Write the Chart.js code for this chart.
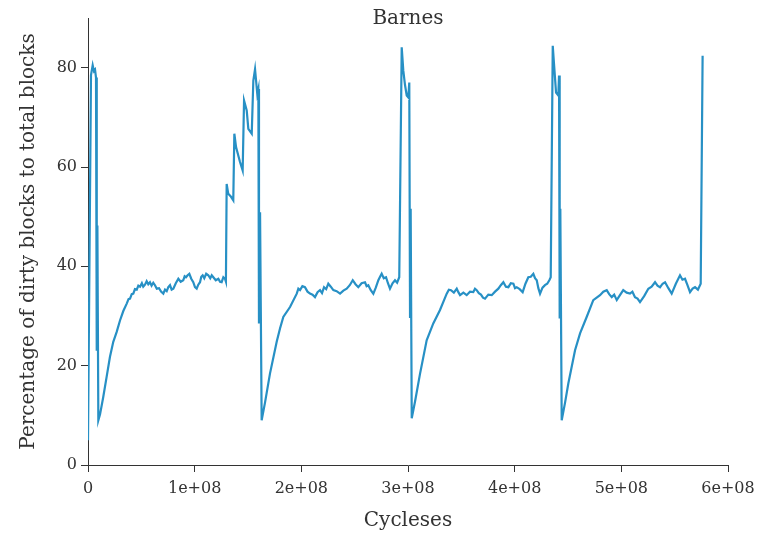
<!DOCTYPE html>
<html>
<head>
<meta charset="utf-8">
<script src="https://cdn.jsdelivr.net/npm/chart.js@4.4.0/dist/chart.umd.min.js"></script>
<style>
  html, body { margin: 0; padding: 0; background: #fff; }
  #wrap { width: 758px; height: 534px; position: relative; }
</style>
</head>
<body>
<div id="wrap"><canvas id="dirtyChart"></canvas></div>
<script>
// x in millions of cycles, y in percent
const cycles = [
    0, 2.8, 4.4, 5.6, 6.6, 7.5, 8.2, 8.8, 9.7, 11.3, 14.3, 17.5, 20.6, 23.7, 26.9, 30.0, 33.1,
    36.3, 38.0, 39.4, 41.0, 42.5, 44.0, 45.7, 47.2, 48.8, 50.5, 51.8, 53.4, 55.0, 56.5, 58.1,
    59.6, 61.2, 62.8, 64.5, 66.6, 68.5, 70.6, 72.2, 73.8, 75.3, 76.9, 78.4, 80.0, 82.3, 84.7,
    86.9, 89.3, 90.6, 91.9, 93.4, 95.0, 96.8, 98.7, 100.3, 101.9, 103.4, 105.0, 106.2, 107.5,
    109.0, 110.8, 112.8, 114.6, 116.0, 117.5, 119.8, 122.2, 123.8, 125.3, 126.9, 128.4, 129.3,
    130.0, 131.5, 134.1, 136.2, 137.2, 138.8, 142.5, 145.0, 146.3, 148.8, 150.3, 153.5,
    155.0, 156.6, 158.7, 159.7, 160.3, 161.3, 162.8,
    165.9, 170.6, 176.9, 180.0, 183.1, 189.4,
    195.7, 197.2, 198.8, 201.0, 203.4, 205.8, 208.1, 210.5, 212.8, 215.2, 217.5, 219.4, 221.3,
    223.3, 225.3, 227.6, 230.0, 233.1, 236.3, 239.4, 242.5, 245.4, 248.2, 250.8, 253.4, 256.5,
    259.7, 261.2, 262.8, 265.1, 267.5, 269.8, 272.2, 273.8, 275.3, 277.3, 279.4, 281.2, 283.1,
    285.5, 287.8, 289.8, 291.8,
    294.1, 295.6, 297.2, 298.8, 300.3, 301.2, 301.9, 302.5, 303.5,
    306.6, 311.3, 317.5, 323.7, 330.0,
    336.3, 338.3, 340.3, 343.0, 345.7, 347.2, 348.8, 351.9, 355.0, 358.1, 361.2, 362.8, 364.4,
    366.4, 368.4, 370.3, 372.2, 375.3, 378.5, 381.6, 384.7, 387.0, 389.4, 391.8, 394.1, 396.4,
    398.8, 400.3, 401.9, 404.7, 407.5, 410.1, 412.8, 415.1, 417.5, 419.1, 420.7, 422.2, 423.8,
    426.1, 428.4, 430.5, 432.5, 433.8,
    435.7, 436.9, 438.8, 440.9, 441.6, 442.2, 442.8, 444.1,
    447.2, 450.3, 456.6, 461.3, 467.5, 473.7,
    480.0, 483.1, 486.3, 488.6, 491.0, 493.3, 495.7, 498.7, 501.8, 505.0, 508.1, 510.4, 512.8,
    515.2, 517.5, 521.4, 525.3, 528.4, 531.6, 533.9, 536.3, 538.7, 541.0, 544.1, 547.2, 551.1,
    555.0, 557.3, 559.7, 562.0, 564.4, 566.8, 569.1, 571.8, 574.4, 576.2
];
const dirtyPct = [
    5.0, 78.5, 80.5, 79.3, 79.6, 78.0, 23.0, 48.2, 9.0, 10.2, 13.7, 17.8, 21.8, 24.8, 26.8, 29.1, 31.0,
    32.5, 33.4, 33.5, 34.4, 34.5, 35.4, 35.3, 36.1, 35.9, 36.6, 35.9, 36.3, 37.0, 36.4, 36.8,
    36.1, 36.7, 36.2, 35.5, 35.6, 34.9, 34.5, 35.3, 35.0, 35.8, 36.2, 35.3, 35.5, 36.6, 37.5,
    36.9, 37.2, 38.0, 37.8, 38.2, 38.5, 37.5, 36.8, 35.8, 35.5, 36.3, 36.8, 37.9, 38.2,
    37.6, 38.5, 38.2, 37.6, 38.2, 37.8, 37.2, 37.5, 36.9, 36.8, 37.8, 37.5, 36.9,
    56.6, 54.6, 54.0, 53.3, 66.7, 64.0, 61.0, 59.3, 73.4, 71.4, 67.7, 66.7,
    77.4, 79.7, 74.7, 75.7, 28.5, 50.9, 9.0,
    12.5, 18.4, 24.8, 27.5, 29.8, 31.8,
    34.5, 35.5, 35.2, 36.0, 35.8, 34.9, 34.5, 34.3, 33.8, 34.8, 35.2, 34.6, 35.8,
    35.4, 36.5, 35.9, 35.2, 35.0, 34.5, 35.1, 35.5, 36.2, 37.2, 36.4, 35.8, 36.6,
    36.8, 36.0, 36.2, 35.2, 34.5, 35.7, 37.2, 37.9, 38.5, 37.6, 37.8, 36.6, 35.5,
    36.6, 37.2, 36.7, 37.8,
    84.1, 79.4, 76.5, 74.4, 74.0, 77.0, 29.8, 51.6, 9.4,
    12.8, 18.4, 25.1, 28.5, 31.2,
    34.5, 35.3, 35.2, 34.7, 35.5, 34.8, 34.2, 34.7, 34.2, 34.9, 34.8, 35.5, 35.2,
    34.6, 34.3, 33.7, 33.5, 34.3, 34.2, 34.9, 35.5, 36.2, 36.8, 35.9, 35.8, 36.6,
    36.5, 35.6, 35.8, 35.4, 34.8, 36.5, 37.8, 37.9, 38.5, 37.6, 37.2, 35.6, 34.5,
    35.7, 36.2, 36.5, 37.2, 37.8,
    84.4, 80.7, 75.0, 74.4, 78.4, 29.5, 51.6, 9.0,
    12.5, 16.4, 23.1, 26.5, 29.8, 33.2,
    34.2, 34.9, 35.2, 34.4, 33.8, 34.3, 33.2, 34.2, 35.2, 34.7, 34.5, 34.9, 33.8,
    33.5, 32.8, 34.0, 35.5, 35.9, 36.8, 36.1, 35.8, 36.5, 36.8, 35.6, 34.5, 36.5,
    38.2, 37.3, 37.5, 36.2, 34.8, 35.5, 35.8, 35.3, 36.5, 82.4
];
const xTickValues = [0, 100, 200, 300, 400, 500, 600];
const xTickLabels = ['0', '1e+08', '2e+08', '3e+08', '4e+08', '5e+08', '6e+08'];
const yTickValues = [0, 20, 40, 60, 80];

const chartTitle = 'Barnes';
const xTitle = 'Cycleses';
const yTitle = 'Percentage of dirty blocks to total blocks';

const FONT = "'DejaVu Serif', serif";
const INK = '#333333';

// title sits over the top of the plot, like the original
const titlePlugin = {
    id: 'topTitle',
    afterDraw(chart) {
        const ctx = chart.ctx;
        const area = chart.chartArea;
        ctx.save();
        ctx.font = '20px ' + FONT;
        ctx.fillStyle = INK;
        ctx.textAlign = 'center';
        ctx.textBaseline = 'middle';
        ctx.fillText(chartTitle, (area.left + area.right) / 2, 19);
        ctx.restore();
    }
};

const points = cycles.map((c, i) => ({ x: c, y: dirtyPct[i] }));

new Chart(document.getElementById('dirtyChart').getContext('2d'), {
    type: 'line',
    data: {
        datasets: [{
            data: points,
            borderColor: '#2790c5',
            borderWidth: 2.2,
            pointRadius: 0,
            tension: 0,
            fill: false
        }]
    },
    options: {
        responsive: true,
        maintainAspectRatio: false,
        animation: false,
        layout: { padding: { top: 18, right: 30, left: 0, bottom: 0 } },
        plugins: {
            legend: { display: false },
            tooltip: { enabled: false }
        },
        scales: {
            x: {
                type: 'linear',
                min: 0,
                max: 600,
                afterFit: (s) => {
                    s.height = 69;
                    // keep the plot edges fixed, labels may overhang
                    s.paddingLeft = 0;
                    s.paddingRight = 0;
                },
                afterBuildTicks: (s) => { s.ticks = xTickValues.map(v => ({ value: v })); },
                grid: { drawOnChartArea: false, drawTicks: true, tickLength: 7, color: INK },
                border: { color: INK, width: 1 },
                ticks: {
                    color: INK,
                    font: { family: FONT, size: 16 },
                    padding: 7,
                    maxRotation: 0,
                    callback: (v) => xTickLabels[xTickValues.indexOf(v)]
                },
                title: {
                    display: true,
                    text: xTitle,
                    color: INK,
                    font: { family: FONT, size: 20 },
                    padding: { top: 0, bottom: 1 }
                }
            },
            y: {
                min: 0,
                max: 90,
                afterFit: (s) => { s.width = 88; },
                afterBuildTicks: (s) => { s.ticks = yTickValues.map(v => ({ value: v })); },
                grid: { drawOnChartArea: false, drawTicks: true, tickLength: 7, color: INK },
                border: { color: INK, width: 1 },
                ticks: {
                    color: INK,
                    font: { family: FONT, size: 16 },
                    padding: 4
                },
                title: {
                    display: true,
                    text: yTitle,
                    color: INK,
                    font: { family: FONT, size: 20 },
                    padding: { top: 17, bottom: 0 }
                }
            }
        }
    },
    plugins: [titlePlugin]
});
</script>
</body>
</html>
